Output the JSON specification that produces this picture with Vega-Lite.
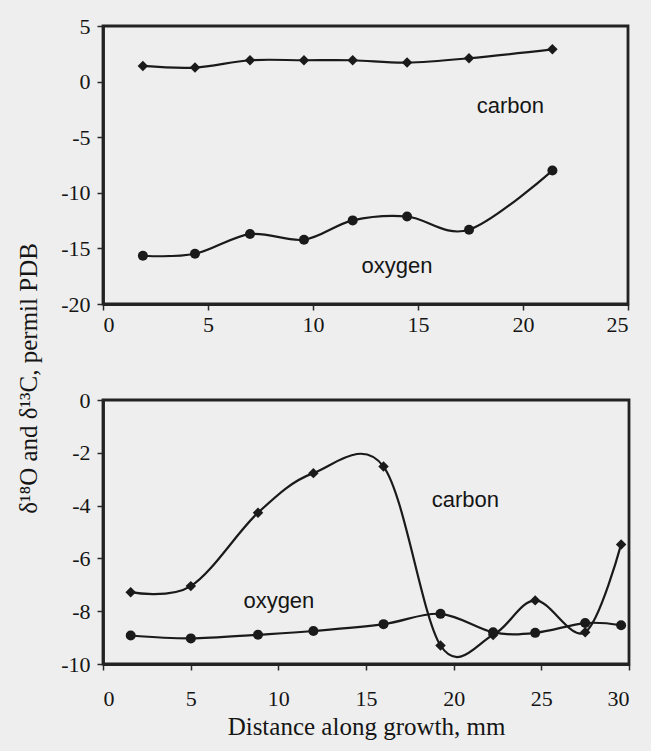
{
  "$schema": "https://vega.github.io/schema/vega-lite/v6.json",
  "background": "#eeeeee",
  "padding": {"left": 14, "top": 13, "right": 20, "bottom": 10},
  "bounds": "flush",
  "spacing": 96,
  "config": {
    "view": {"stroke": "#222222", "strokeWidth": 2.8},
    "axis": {
      "grid": false,
      "domainColor": "#222222",
      "domainWidth": 2.8,
      "tickColor": "#2a2a2a",
      "tickSize": 6,
      "tickWidth": 1.5,
      "labelFont": "Liberation Serif",
      "labelFontSize": 22,
      "labelColor": "#151515",
      "titleFont": "Liberation Serif",
      "titleFontSize": 25,
      "titleFontWeight": "normal",
      "titleColor": "#151515"
    }
  },
  "datasets": {
    "top": [
      {"distance": 1.9, "series": "carbon", "value": 1.41},
      {"distance": 4.38, "series": "carbon", "value": 1.26},
      {"distance": 7.0, "series": "carbon", "value": 1.92},
      {"distance": 9.57, "series": "carbon", "value": 1.92},
      {"distance": 11.89, "series": "carbon", "value": 1.92},
      {"distance": 14.48, "series": "carbon", "value": 1.71},
      {"distance": 17.43, "series": "carbon", "value": 2.1},
      {"distance": 21.4, "series": "carbon", "value": 2.9},
      {"distance": 1.9, "series": "oxygen", "value": -15.66},
      {"distance": 4.38, "series": "oxygen", "value": -15.48},
      {"distance": 7.0, "series": "oxygen", "value": -13.71},
      {"distance": 9.57, "series": "oxygen", "value": -14.22},
      {"distance": 11.89, "series": "oxygen", "value": -12.48},
      {"distance": 14.48, "series": "oxygen", "value": -12.13},
      {"distance": 17.43, "series": "oxygen", "value": -13.32},
      {"distance": 21.4, "series": "oxygen", "value": -8.0}
    ],
    "bottom": [
      {"distance": 1.58, "series": "carbon", "value": -7.28},
      {"distance": 5.01, "series": "carbon", "value": -7.05},
      {"distance": 8.84, "series": "carbon", "value": -4.27},
      {"distance": 12.0, "series": "carbon", "value": -2.77},
      {"distance": 16.0, "series": "carbon", "value": -2.52},
      {"distance": 19.25, "series": "carbon", "value": -9.3},
      {"distance": 22.25, "series": "carbon", "value": -8.9},
      {"distance": 24.65, "series": "carbon", "value": -7.59},
      {"distance": 27.5, "series": "carbon", "value": -8.8},
      {"distance": 29.55, "series": "carbon", "value": -5.47},
      {"distance": 1.58, "series": "oxygen", "value": -8.92},
      {"distance": 5.01, "series": "oxygen", "value": -9.03},
      {"distance": 8.84, "series": "oxygen", "value": -8.89},
      {"distance": 12.0, "series": "oxygen", "value": -8.75},
      {"distance": 16.0, "series": "oxygen", "value": -8.49},
      {"distance": 19.25, "series": "oxygen", "value": -8.1},
      {"distance": 22.25, "series": "oxygen", "value": -8.8},
      {"distance": 24.65, "series": "oxygen", "value": -8.82},
      {"distance": 27.5, "series": "oxygen", "value": -8.45},
      {"distance": 29.55, "series": "oxygen", "value": -8.53}
    ],
    "topLabels": [
      {"distance": 19.4, "value": -2.2, "label": "carbon"},
      {"distance": 14.0, "value": -16.6, "label": "oxygen"}
    ],
    "bottomLabels": [
      {"distance": 20.67, "value": -3.77, "label": "carbon"},
      {"distance": 10.03, "value": -7.61, "label": "oxygen"}
    ]
  },
  "vconcat": [
    {
      "width": 525,
      "height": 278,
      "layer": [
        {
          "data": {"name": "top"},
          "mark": {"type": "line", "interpolate": "cardinal", "color": "#1a1a1a", "strokeWidth": 2.2},
          "encoding": {
            "x": {"field": "distance", "type": "quantitative", "scale": {"domain": [0, 25], "nice": false},
              "axis": {"values": [0, 5, 10, 15, 20, 25], "title": null, "labelPadding": 4}},
            "y": {"field": "value", "type": "quantitative", "scale": {"domain": [-20, 5], "nice": false},
              "axis": {"values": [5, 0, -5, -10, -15, -20], "labelPadding": 7,
                "labelExpr": "datum.value < 0 ? '-' + abs(datum.value) : '' + datum.value",
                "title": "δ¹⁸O and δ¹³C, permil PDB", "titleX": -62, "titleY": 352}},
            "detail": {"field": "series"}
          }
        },
        {
          "data": {"name": "top"},
          "mark": {"type": "point", "filled": true, "color": "#1a1a1a", "opacity": 1},
          "encoding": {
            "x": {"field": "distance", "type": "quantitative"},
            "y": {"field": "value", "type": "quantitative"},
            "shape": {"field": "series", "type": "nominal", "scale": {"domain": ["carbon", "oxygen"], "range": ["diamond", "circle"]}, "legend": null},
            "size": {"field": "series", "type": "nominal", "scale": {"domain": ["carbon", "oxygen"], "range": [110, 100]}, "legend": null}
          }
        },
        {
          "data": {"name": "topLabels"},
          "mark": {"type": "text", "font": "Liberation Sans", "fontSize": 22, "color": "#151515", "align": "center", "baseline": "middle"},
          "encoding": {
            "x": {"field": "distance", "type": "quantitative"},
            "y": {"field": "value", "type": "quantitative"},
            "text": {"field": "label"}
          }
        }
      ]
    },
    {
      "width": 526,
      "height": 264,
      "layer": [
        {
          "data": {"name": "bottom"},
          "mark": {"type": "line", "interpolate": "cardinal", "color": "#1a1a1a", "strokeWidth": 2.2},
          "encoding": {
            "x": {"field": "distance", "type": "quantitative", "scale": {"domain": [0, 30], "nice": false},
              "axis": {"values": [0, 5, 10, 15, 20, 25, 30], "labelPadding": 18, "title": "Distance along growth, mm", "titlePadding": 5}},
            "y": {"field": "value", "type": "quantitative", "scale": {"domain": [-10, 0], "nice": false},
              "axis": {"values": [0, -2, -4, -6, -8, -10], "labelPadding": 7,
                "labelExpr": "datum.value < 0 ? '-' + abs(datum.value) : '' + datum.value",
                "title": null}},
            "detail": {"field": "series"}
          }
        },
        {
          "data": {"name": "bottom"},
          "mark": {"type": "point", "filled": true, "color": "#1a1a1a", "opacity": 1},
          "encoding": {
            "x": {"field": "distance", "type": "quantitative"},
            "y": {"field": "value", "type": "quantitative"},
            "shape": {"field": "series", "type": "nominal", "scale": {"domain": ["carbon", "oxygen"], "range": ["diamond", "circle"]}, "legend": null},
            "size": {"field": "series", "type": "nominal", "scale": {"domain": ["carbon", "oxygen"], "range": [95, 85]}, "legend": null}
          }
        },
        {
          "data": {"name": "bottomLabels"},
          "mark": {"type": "text", "font": "Liberation Sans", "fontSize": 22, "color": "#151515", "align": "center", "baseline": "middle"},
          "encoding": {
            "x": {"field": "distance", "type": "quantitative"},
            "y": {"field": "value", "type": "quantitative"},
            "text": {"field": "label"}
          }
        }
      ]
    }
  ]
}
